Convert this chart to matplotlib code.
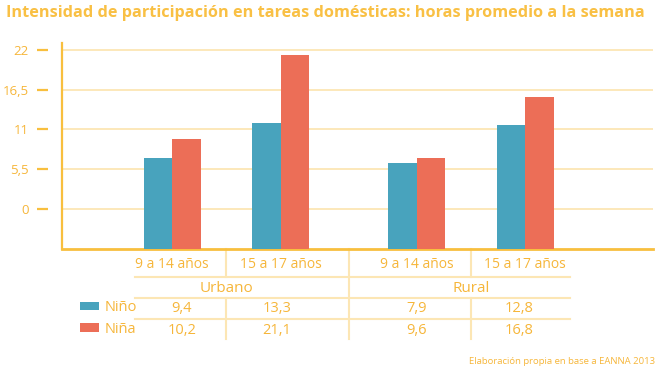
import matplotlib.pyplot as plt
from matplotlib.transforms import blended_transform_factory

# datos
areas = ["Urbano", "Rural"]
edades = ["9 a 14 años", "15 a 17 años", "9 a 14 años", "15 a 17 años"]
nino = ["9,4", "13,3", "7,9", "12,8"]
nina = ["10,2", "21,1", "9,6", "16,8"]
# alturas de las barras (escala del eje)
barra_nino = [7.0, 11.9, 6.3, 11.6]
barra_nina = [9.65, 21.3, 7.0, 15.5]
yticks = [0, 5.5, 11, 16.5, 22]
ytick_labels = ["0", "5,5", "11", "16,5", "22"]

# colores
azul = "#48A3BD"
rojo = "#EC6E57"
naranja = "#F8BF3E"
texto = "#F6B63A"
linea = "#FCE6B4"

plt.rcParams["font.family"] = ["Open Sans", "DejaVu Sans"]

fig = plt.figure(figsize=(6.6, 3.74), dpi=100)
ax = fig.add_axes([61.7 / 660, 1 - 249.3 / 374, (653 - 61.7) / 660, (249.3 - 43) / 374])

x = [0, 1, 2.25, 3.25]
w = 0.262
base = -5.62
ax.bar([p - w / 2 for p in x], [v - base for v in barra_nino], bottom=base, width=w,
       color=azul, label="Niño", zorder=3)
ax.bar([p + w / 2 for p in x], [v - base for v in barra_nina], bottom=base, width=w,
       color=rojo, label="Niña", zorder=3)

ax.set_xlim(-1.015, 4.425)
ax.set_ylim(base, 22.95)
ax.set_yticks(yticks)
ax.set_yticklabels(ytick_labels)
ax.set_xticks([])
ax.grid(axis="y", color=linea, linewidth=1.3, zorder=0)

for s in ["top", "right"]:
    ax.spines[s].set_visible(False)
ax.spines["bottom"].set_color(naranja)
ax.spines["bottom"].set_linewidth(2)
ax.spines["left"].set_position(("outward", 10))
ax.spines["left"].set_visible(False)
ax.tick_params(axis="y", direction="out", length=8, width=1.6, color=naranja,
               labelcolor=texto, labelsize=9.5, pad=5.5)
ax.plot([0, 0], [0, 1], transform=ax.transAxes, color=naranja, lw=1.6, clip_on=False)

# titulo
fig.text(6 / 660, 1 - 13 / 374, "Intensidad de participación en tareas domésticas: horas promedio a la semana",
         color="#F9C044", fontsize=11.7, fontweight="bold", va="center", ha="left")

# tabla debajo del grafico
tr = blended_transform_factory(ax.transData, fig.transFigure)
def fy(py):
    return 1 - py / 374

borde_izq = x[0] - 0.34
borde_der = x[-1] + 0.41
mitad_urb = (x[0] + x[1]) / 2
mitad_centro = (x[1] + x[2]) / 2
mitad_rur = (x[2] + x[3]) / 2

for py in [276.7, 297.7, 319.3]:
    ax.plot([borde_izq, borde_der], [fy(py), fy(py)], transform=tr, color=linea,
            lw=1.5, clip_on=False)
ax.plot([mitad_centro, mitad_centro], [fy(249.3), fy(339)], transform=tr, color=linea,
        lw=1.5, clip_on=False)
for xm in [mitad_urb, mitad_rur]:
    ax.plot([xm, xm], [fy(249.3), fy(276.7)], transform=tr, color=linea, lw=1.5, clip_on=False)
    ax.plot([xm, xm], [fy(297.7), fy(339)], transform=tr, color=linea, lw=1.5, clip_on=False)

# los valores estan un poco corridos respecto a las barras
desp = [0.09, -0.035, 0, -0.06]
for p, d, e, a, b in zip(x, desp, edades, nino, nina):
    ax.text(p, fy(264), e, transform=tr, ha="center", va="center", color=texto, fontsize=10)
    ax.text(p + d, fy(309), a, transform=tr, ha="center", va="center", color=texto, fontsize=10.5)
    ax.text(p + d, fy(330), b, transform=tr, ha="center", va="center", color=texto, fontsize=10.5)
for xm, area in zip([mitad_urb, mitad_rur], areas):
    ax.text(xm, fy(288), area, transform=tr, ha="center", va="center", color=texto,
            fontsize=11)

fig.legend(loc="upper left", bbox_to_anchor=(80 / 660, fy(300)), frameon=False,
           borderpad=0, borderaxespad=0, handlelength=1.3, handleheight=0.5,
           handletextpad=0.4, labelspacing=0.45, fontsize=10.5, labelcolor=texto)

fig.text(655 / 660, fy(361), "Elaboración propia en base a EANNA 2013", ha="right",
         va="center", color=texto, fontsize=6.8)

fig.savefig("out.png", dpi=100)
